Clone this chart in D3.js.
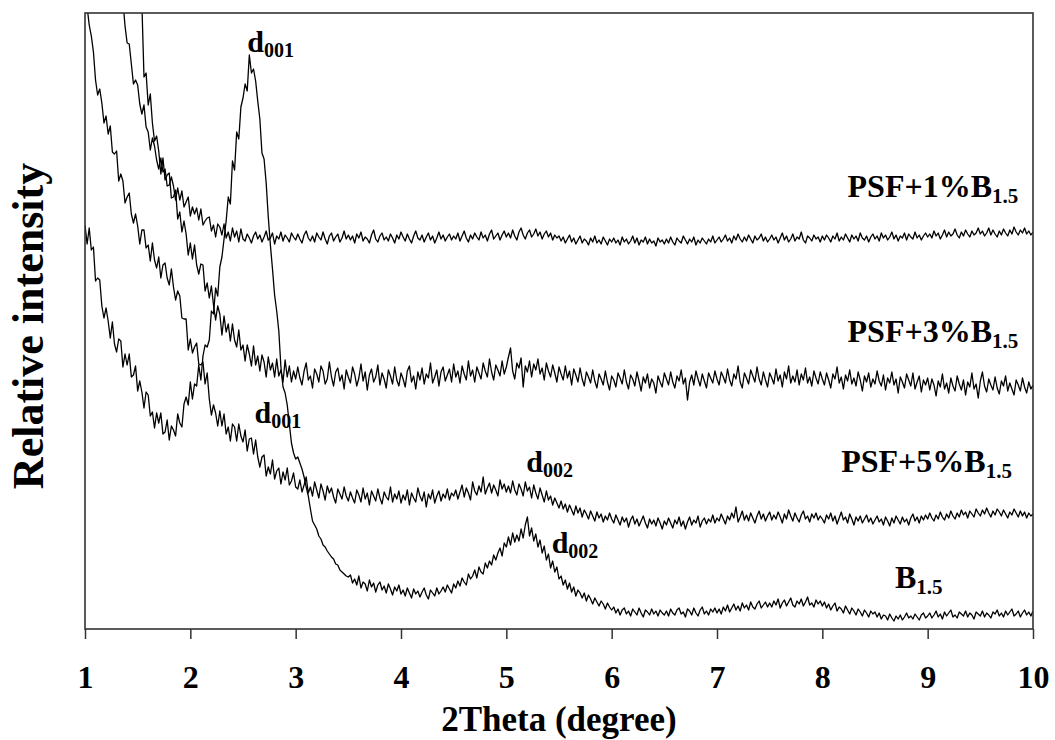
<!DOCTYPE html>
<html><head><meta charset="utf-8">
<script src="https://cdn.jsdelivr.net/npm/d3@7"></script>
<style>body{margin:0;background:#fff}</style>
</head><body><svg id="chart" width="1055" height="740"></svg>
<script>
// Step scan: 2Theta from 1.00 degree, step 0.02 degree (451 points per pattern)
const scanStart = 1.0, scanStep = 0.02;
const xTicks = [1,2,3,4,5,6,7,8,9,10];
const seriesNames = ["PSF+1%B1.5","PSF+3%B1.5","PSF+5%B1.5","B1.5"];

// Relative intensity (arbitrary units)
const psf1 = [670,670,670,670,670,670,670,670,670,670,670,670,670,670,670,670,
652,628,628,603,586,585,565,545,549,544,
525,515,524,502,497,479,491,483,469,460,
471,457,460,443,444,452,443,429,441,429,
438,422,427,432,413,422,415,421,409,420,
404,408,411,412,398,404,392,405,402,394,
405,391,397,388,401,392,398,387,400,390,
388,395,391,386,393,397,390,394,387,392,398,389,391,396,385,393,390,397,388,394,391,387,396,392,389,
395,390,386,394,398,391,388,393,387,396,392,389,397,390,385,393,396,388,392,395,387,391,398,390,394,
389,393,386,395,391,397,388,392,390,386,394,399,390,387,393,396,389,392,388,395,391,386,394,390,397,
392,388,395,390,386,393,398,391,389,394,387,392,396,389,393,386,391,397,390,394,388,392,395,389,393,
390,396,388,393,398,391,387,394,390,396,392,389,397,391,394,388,395,399,390,393,396,389,394,398,392,
396,391,399,393,389,397,401,394,390,396,399,392,395,400,393,397,390,395,398,392,396,389,394,391,393,
388,392,386,390,394,387,391,385,389,393,386,390,388,384,391,387,393,386,389,385,392,388,384,390,387,
391,386,389,384,392,387,390,385,388,393,386,391,384,389,387,392,385,390,386,388,383,391,387,389,385,
390,386,392,387,384,391,388,386,393,389,385,390,387,392,384,389,386,391,388,385,390,387,393,386,389,
392,387,390,394,388,391,386,393,389,395,390,387,392,388,394,390,386,393,389,391,395,388,392,387,390,
394,389,392,386,391,396,389,393,387,390,395,388,392,390,397,389,386,393,391,388,394,390,392,387,393,
389,394,391,387,393,390,396,388,392,389,395,391,387,394,390,393,388,396,391,389,393,387,392,395,390,
393,388,396,391,394,389,392,397,390,394,388,393,391,396,389,395,392,390,397,391,394,389,393,396,392,
395,391,398,393,396,390,394,399,392,397,393,395,400,394,391,397,393,399,395,392,398,394,396,401,395,
398,393,396,401,394,399,395,392,398,394,400,396,393,399,395,402,397,394,399,396,401,395,398,394,397];

const psf3 = [680,680,680,680,680,680,680,680,680,680,680,680,680,680,680,680,680,680,680,680,680,680,680,680,680,680,
650,625,552,
556,524,535,506,488,493,478,455,471,449,
454,456,431,432,439,410,417,397,408,395,
374,386,370,384,364,355,365,364,338,346,
331,343,324,309,323,315,294,313,297,305,
288,305,289,282,299,279,284,268,284,275,
263,283,264,273,258,274,267,252,272,259,
266,252,270,253,259,247,269,252,263,247,
258,250,
262,251,244,258,266,249,253,241,260,255,247,263,258,245,250,267,252,243,257,261,248,254,240,259,252,
246,262,255,243,251,265,248,257,239,254,260,247,252,264,244,256,250,241,259,253,245,262,249,243,256,
250,242,258,263,247,253,240,257,249,261,245,255,251,266,246,252,259,243,257,262,248,254,260,247,265,
252,258,246,263,255,249,268,253,259,247,262,256,250,266,258,252,270,257,249,264,259,253,268,255,262,
272,281,258,250,266,261,271,242,263,257,268,252,265,259,270,255,261,249,266,258,252,264,256,247,262,
255,249,263,251,258,244,260,254,247,261,250,243,257,252,246,259,248,241,255,250,244,258,247,239,253,
249,242,256,251,245,259,247,240,254,250,243,257,248,238,252,246,255,241,250,246,236,253,247,242,256,
250,244,257,247,241,253,248,259,245,251,229,247,254,244,258,250,243,255,248,241,256,251,246,258,250,
244,257,252,246,260,249,243,255,250,263,247,241,256,251,245,259,253,247,262,250,244,257,249,242,256,
251,245,260,248,254,242,257,250,263,246,253,247,259,244,255,249,261,246,252,243,258,251,245,257,250,
244,256,249,241,255,250,262,246,252,240,254,248,259,245,251,243,257,249,238,253,247,256,242,250,245,
258,248,243,254,239,251,246,257,244,250,236,252,247,241,255,249,243,256,240,247,253,237,249,244,251,
239,250,244,233,248,242,255,240,246,236,251,243,238,253,245,239,249,234,247,242,256,240,245,231,248,
257,243,237,250,244,239,252,241,235,248,243,253,238,246,240,234,249,244,238,251,242,236,247,240,244];

const psf5 = [636,622,604,593,577,549,534,540,526,506,
513,495,503,477,475,478,448,455,448,426,
432,436,415,406,415,403,385,399,399,381,
384,368,386,369,361,372,351,364,366,351,
344,360,342,329,338,333,311,310,310,279,
290,276,282,286,265,264,267,245,256,230,
214,224,216,203,218,203,215,195,202,188,
205,202,188,205,193,187,199,178,190,191,
175,189,172,162,172,174,153,162,155,169,
150,158,161,145,157,149,161,144,148,156,
142,
140,149,137,144,152,136,142,133,147,139,131,145,138,129,143,136,141,132,126,140,135,130,142,133,128,
137,131,126,139,134,127,141,130,136,124,138,133,128,140,131,125,137,132,129,142,127,135,130,138,126,
134,129,139,124,136,131,127,141,133,128,137,122,135,130,139,126,133,138,128,135,131,140,129,136,133,
139,130,137,144,132,141,136,129,147,138,134,143,137,152,135,141,146,136,144,139,133,149,140,145,137,
143,136,148,139,134,145,140,133,147,138,142,131,144,136,130,141,134,127,138,129,133,124,131,126,121,
128,120,125,117,124,119,114,123,116,121,112,119,115,110,118,113,108,117,111,115,107,113,109,116,110,
106,114,109,104,112,107,111,102,109,113,105,110,103,108,113,106,101,110,105,109,103,111,106,100,108,
104,111,106,101,109,105,112,103,108,100,107,112,104,109,106,113,102,108,111,105,110,107,114,106,111,
108,115,110,105,113,109,116,111,122,107,112,118,109,114,108,116,111,106,113,118,110,115,108,113,117,
109,114,110,117,112,106,115,110,119,113,108,116,111,107,114,118,110,113,107,115,111,116,109,113,110,
106,114,110,116,108,113,105,111,117,109,112,106,115,110,104,112,108,113,106,110,114,107,111,105,109,
113,107,110,104,112,108,103,111,106,113,109,105,112,107,110,104,111,115,108,112,106,113,109,114,110,
116,111,108,114,110,117,112,109,115,111,118,113,110,116,112,119,114,117,111,118,115,112,120,116,113,
119,115,121,116,112,118,114,120,117,113,119,115,111,117,114,120,116,112,118,113,117,111,116,113,115];

const b15 = [404,385,401,379,382,348,351,349,323,311,
321,308,291,307,285,277,290,288,262,275,
264,275,252,254,263,238,248,237,221,237,
234,213,217,201,216,206,216,195,197,209,
189,203,199,193,215,206,202,225,232,224,
247,230,245,243,264,249,273,284,282,289,
318,315,341,333,362,372,390,408,432,425,
468,459,497,490,522,531,545,538,574,556,
560,548,528,510,476,470,446,412,384,360,
334,318,298,262,242,236,224,205,186,176,
170,172,166,160,152,142,133,120,108,104,
100,93,90,84,82,78,75,72,70,65,
64,59,57,55,53,52,
54,46,50,44,53,41,47,45,38,49,42,46,37,44,47,39,43,36,45,40,34,42,38,44,35,
39,33,41,36,31,40,35,38,32,37,41,34,30,39,36,33,41,35,38,42,37,44,40,36,45,
41,48,43,51,47,44,55,50,53,59,51,62,57,55,66,61,68,64,74,69,76,81,73,86,82,
92,84,96,87,94,88,100,91,104,112,93,101,88,95,82,89,76,83,69,75,61,68,57,62,50,
53,44,49,40,46,37,42,33,39,36,31,36,28,34,30,25,31,27,23,28,25,20,26,22,19,
22,16,20,14,19,21,15,18,13,20,17,14,21,16,12,19,17,14,20,15,18,13,19,16,14,
18,13,20,16,14,19,21,15,17,12,20,18,14,21,16,13,19,22,15,18,14,20,17,21,16,
20,15,22,18,24,17,21,25,19,23,18,26,21,24,19,27,22,20,25,28,21,24,27,22,26,
22,28,24,30,21,26,29,23,27,31,24,22,28,25,30,23,27,32,24,26,22,29,25,28,23,
27,21,25,19,23,26,18,22,20,16,23,19,15,21,18,14,20,17,13,19,16,12,18,15,17,
12,16,10,14,13,9,15,11,8,13,10,14,9,12,16,11,13,10,15,12,9,14,16,11,13,
16,11,14,18,12,15,10,17,13,16,19,12,14,11,17,15,13,18,12,16,14,10,17,15,13,
18,12,16,14,11,17,15,19,13,16,12,18,14,17,20,13,15,18,12,16,19,14,17,13,18];

const serif = "'Times New Roman','Liberation Serif','DejaVu Serif',serif";
const pL = 85, pR = 1033, pT = 13, pB = 629;
const x = d3.scaleLinear().domain([1, 10]).range([pL, pR]);
const y = d3.scaleLinear().domain([0, 616]).range([pB, pT]);
const svg = d3.select("#chart");

svg.append("clipPath").attr("id", "clip").append("rect")
  .attr("x", pL).attr("y", pT).attr("width", pR - pL).attr("height", pB - pT);

const line = d3.line().x((d, i) => x(scanStart + i * scanStep)).y(d => y(d));
[psf1, psf3, psf5, b15].forEach(s => {
  svg.append("path").datum(s).attr("d", line)
    .attr("fill", "none").attr("stroke", "#000").attr("stroke-width", 1.3)
    .attr("stroke-linejoin", "round").attr("clip-path", "url(#clip)");
});

// frame
svg.append("rect").attr("x", pL).attr("y", pT).attr("width", pR - pL).attr("height", pB - pT)
  .attr("fill", "none").attr("stroke", "#333").attr("stroke-width", 1.6);

// x axis
const gx = svg.append("g").attr("transform", `translate(0,${pB})`)
  .call(d3.axisBottom(x).tickValues(xTicks).tickSize(10).tickFormat(d3.format("d")));
gx.select(".domain").remove();
gx.selectAll(".tick line").attr("stroke", "#333").attr("stroke-width", 1.5);
gx.selectAll(".tick text").attr("font-family", serif).attr("font-weight", "bold")
  .attr("font-size", 32).attr("fill", "#000").attr("dy", null).attr("y", 59);

// axis titles
svg.append("text").attr("x", (pL + pR) / 2).attr("y", 731).attr("text-anchor", "middle")
  .attr("font-family", serif).attr("font-weight", "bold").attr("font-size", 35).text("2Theta (degree)");
svg.append("text").attr("transform", "translate(43,326) rotate(-90)").attr("text-anchor", "middle")
  .attr("font-family", serif).attr("font-weight", "bold").attr("font-size", 44).text("Relative intensity");

// labels with subscripts
function label(px, py, anchor, main, sub, size, subSize, subDy) {
  const t = svg.append("text").attr("x", px).attr("y", py).attr("text-anchor", anchor)
    .attr("font-family", serif).attr("font-weight", "bold").attr("font-size", size).attr("fill", "#000");
  t.append("tspan").text(main);
  t.append("tspan").attr("font-size", subSize).attr("dy", subDy).text(sub);
}
label(x(9.86), y(432), "end", "PSF+1%B", "1.5", 32, 21, 6);
label(x(9.86), y(287), "end", "PSF+3%B", "1.5", 32, 21, 6);
label(x(9.80), y(157), "end", "PSF+5%B", "1.5", 32, 21, 6);
label(x(8.69), y(41), "start", "B", "1.5", 32, 21, 6);
label(x(2.54), y(577), "start", "d", "001", 30, 20, 5);
label(x(2.61), y(206), "start", "d", "001", 30, 20, 5);
label(x(5.19), y(157), "start", "d", "002", 30, 20, 5);
label(x(5.43), y(76), "start", "d", "002", 30, 20, 5);
</script></body></html>
